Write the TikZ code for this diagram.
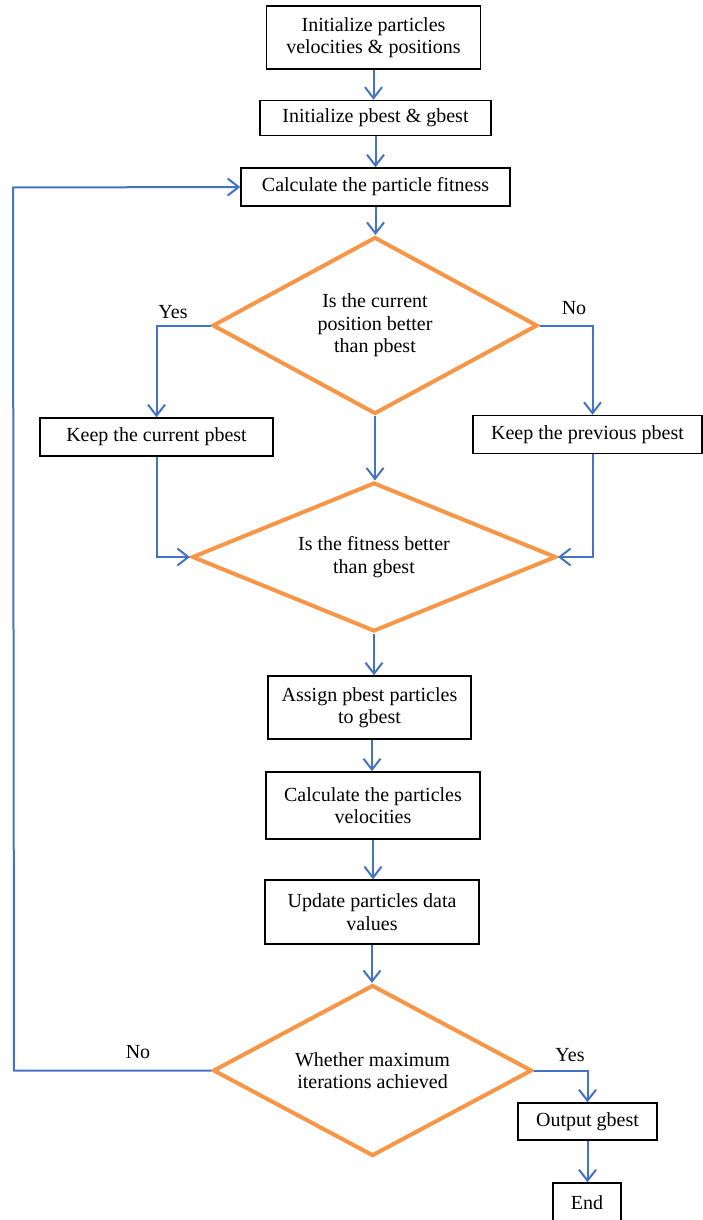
\documentclass[tikz,border=0pt]{standalone}
\usepackage{fontspec}
\setmainfont{Liberation Serif}
\usetikzlibrary{shapes.geometric,arrows.meta}
\definecolor{lineblue}{RGB}{68,114,196}
\definecolor{dorange}{RGB}{247,150,70}
\tikzset{
  box/.style={draw=black, line width=1.4pt, rectangle, align=center, inner sep=0pt, fill=white},
  dia/.style={draw=dorange, line width=4pt, diamond, align=center, inner sep=0pt, line join=miter},
  arr/.style={draw=lineblue, line width=2pt, -{Straight Barb[length=11pt,width=17pt,line width=2pt]}},
  lbl/.style={inner sep=0pt}
}
\begin{document}
\begin{tikzpicture}[x=1pt,y=-1pt,font=\fontsize{20}{22.5}\selectfont]
\useasboundingbox[fill=white] (0,0) rectangle (702,1220);
% boxes
\node[box, minimum width=214, minimum height=63] (b1) at (373.5,37.5) {Initialize particles\\velocities \& positions};
\node[box, minimum width=231, minimum height=35] (b2) at (375.5,118) {Initialize pbest \& gbest};
\node[box, minimum width=269, minimum height=38] (b3) at (375.5,187) {Calculate the particle fitness};
\node[dia, shape aspect=1.84, minimum width=325, minimum height=177] (d1) at (375,325.5) {Is the current\\position better\\than pbest};
\node[box, minimum width=233, minimum height=38] (kc) at (156.5,437) {Keep the current pbest};
\node[box, minimum width=229, minimum height=38] (kp) at (587.5,434.5) {Keep the previous pbest};
\node[dia, shape aspect=2.44, minimum width=364, minimum height=149] (d2) at (374,557) {Is the fitness better\\than gbest};
\node[box, minimum width=203, minimum height=63] (b4) at (369.5,707.5) {Assign pbest particles\\to gbest};
\node[box, minimum width=214, minimum height=67] (b5) at (373,805.5) {Calculate the particles\\velocities};
\node[box, minimum width=214, minimum height=64] (b6) at (372,912) {Update particles data\\values};
\node[dia, shape aspect=1.87, minimum width=319, minimum height=171] (d3) at (372.5,1070.5) {Whether maximum\\iterations achieved};
\node[box, minimum width=139, minimum height=37] (out) at (587.5,1121.5) {Output gbest};
\node[box, minimum width=68, minimum height=39] (end) at (587,1202.5) {End};
% loop corner points
\coordinate (l1) at (14,1070.5);
\coordinate (l2) at (13,187.5);
% connectors
\draw[arr] (b1.south) -- (b1.south |- b2.north);
\draw[arr] (b2.south) -- (b2.south |- b3.north);
\draw[arr] (b3.south) -- (b3.south |- d1.north);
\draw[arr] (d1.west) -| (kc.north);
\draw[arr] (d1.east) -| ([xshift=5pt]kp.north);
\draw[arr] (d1.south) -- (d1.south |- d2.north);
\draw[arr] (kc.south) |- (d2.west);
\draw[arr] ([xshift=5pt]kp.south) |- (d2.east);
\draw[arr] (d2.south) -- (d2.south |- b4.north);
\draw[arr] ([xshift=2.5pt]b4.south) -- ([xshift=2.5pt]b4.south |- b5.north);
\draw[arr] (b5.south) -- (b5.south |- b6.north);
\draw[arr] (b6.south) -- (b6.south |- d3.north);
\draw[arr] (d3.west) -- (l1) -- (l2) -- (b3.west);
\draw[arr] (d3.east) -| (out.north);
\draw[arr] (out.south) -- (out.south |- end.north);
% labels
\node[lbl] (y1) at (173,312) {Yes};
\node[lbl] (n1) at (574,308) {No};
\node[lbl] (n2) at (138,1052) {No};
\node[lbl] (y2) at (570,1055) {Yes};
\end{tikzpicture}
\end{document}
